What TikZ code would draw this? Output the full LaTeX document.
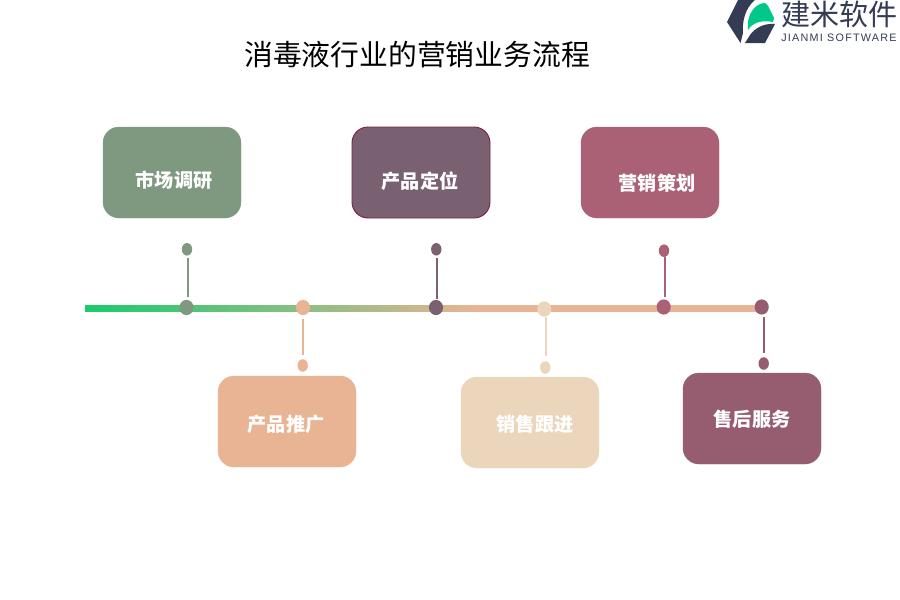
\documentclass[tikz,border=0pt]{standalone}
\usepackage{fontspec}
\setmainfont{Liberation Sans}
\newfontfamily\cjk{Noto Sans CJK SC}
\newfontfamily\logolat[LetterSpace=11.5]{Liberation Sans}
\usetikzlibrary{shapes.geometric}
\definecolor{cgreen}{HTML}{7F9880}
\definecolor{cpeach}{HTML}{E8B494}
\definecolor{cplum}{HTML}{7A6172}
\definecolor{crose}{HTML}{AB6175}
\definecolor{csand}{HTML}{EBD6BB}
\definecolor{cmauve}{HTML}{965D71}
\definecolor{cedge}{HTML}{7A1F45}
\definecolor{cstart}{HTML}{19CB6B}
\definecolor{cnavy}{HTML}{333B55}
\definecolor{clogo}{HTML}{00C88A}
\tikzset{
  x=0.75pt,y=-0.75pt,
  box/.style={rounded corners=12pt,minimum width=103.5pt,minimum height=68.25pt,inner sep=0pt,draw=#1,fill=#1,line width=0.3pt},
  lab/.style={font=\cjk\fontsize{14.35pt}{16pt}\selectfont\bfseries,text=white,inner sep=0pt},
  bigdot/.style={ellipse,fill=#1,minimum width=10.6pt,minimum height=11.4pt,inner sep=0pt},
  smalldot/.style={ellipse,fill=#1,minimum width=7.8pt,minimum height=9.4pt,inner sep=0pt},
  stem/.style={draw=#1,line width=1.3pt},
}
\begin{document}
\begin{tikzpicture}
\useasboundingbox (0,0) rectangle (900,600);
% title
\node[inner sep=0pt,font=\cjk\fontsize{21.6pt}{24pt}\selectfont] (title) at (417,55) {消毒液行业的营销业务流程};
% logo
\fill[cnavy] (738,0) -- (755,0) .. controls (745,8) and (742,22) .. (743,33) -- (740.5,43) -- (727,22) -- cycle;
\fill[cnavy] (745,43) -- (765,43) -- (775,24) .. controls (764,23) and (755,28) .. (750,35) -- cycle;
\fill[clogo] (748,30) .. controls (746,15) and (755,3) .. (765,3) -- (768,6) -- (774,18) -- (773,22) .. controls (762,20) and (753,22) .. (748,30) -- cycle;
\node[inner sep=0pt,text=cnavy,font=\cjk\fontsize{21.8pt}{24pt}\selectfont] (brand) at (839.5,14) {建米软件};
\node[inner sep=0pt,text=cnavy,font=\logolat\fontsize{8.1pt}{10pt}\selectfont] (brandlat) at (839,38) {JIANMI SOFTWARE};
% timeline: gradient built from thin slices, then flat colour
\fill[cpeach] (470,305) rectangle (762,312);
\foreach \s in {0,...,78}{
  \pgfmathsetmacro{\pc}{100-\s*100/78}
  \pgfmathsetmacro{\xa}{85+\s*5}
  \pgfmathsetmacro{\xb}{\xa+5.6}
  \fill[cstart!\pc!cpeach] (\xa,305) rectangle (\xb,312);
}
% dots on the line
\node[bigdot=cgreen] (m1) at (186.5,307.5) {};
\node[bigdot=cpeach] (m2) at (303,307.5) {};
\node[bigdot=cplum] (m3) at (436,307.5) {};
\node[bigdot=csand] (m4) at (544.3,309) {};
\node[bigdot=crose] (m5) at (663.7,307) {};
\node[bigdot=cmauve] (m6) at (761.7,307) {};
% end dots
\node[smalldot=cgreen] (e1) at (187,249.3) {};
\node[smalldot=cpeach] (e2) at (302.7,365.5) {};
\node[smalldot=cplum] (e3) at (436.3,249.3) {};
\node[smalldot=csand] (e4) at (545.3,367.5) {};
\node[smalldot=crose] (e5) at (664,250.7) {};
\node[smalldot=cmauve] (e6) at (763.7,363.5) {};
% stems
\draw[stem=cgreen,transform canvas={xshift=0.6pt},shorten <=1.5pt,shorten >=1.7pt] (e1.south) -- (e1.south |- m1.north);
\draw[stem=cpeach,shorten <=3pt,shorten >=3pt] (m2.south) -- (m2.south |- e2.north);
\draw[stem=cplum,transform canvas={xshift=0.5pt},shorten <=1.5pt,shorten >=0.5pt] (e3.south) -- (e3.south |- m3.north);
\draw[stem=csand,transform canvas={xshift=1.2pt},shorten >=3.5pt] (m4.south) -- (m4.south |- e4.north);
\draw[stem=crose,transform canvas={xshift=0.7pt},shorten >=1.5pt] (e5.south) -- (e5.south |- m5.north);
\draw[stem=cmauve,shorten <=1.8pt,shorten >=3pt] (e6.north |- m6.south) -- (e6.north);
% boxes
\node[box=cgreen] (b1) at (172,172.5) {};
\node[box=cpeach] (b2) at (287,421.5) {};
\node[box=cplum,draw=cedge,line width=0.7pt] (b3) at (421,172.5) {};
\node[box=csand] (b4) at (530,422.5) {};
\node[box=crose] (b5) at (650,172.5) {};
\node[box=cmauve] (b6) at (752,418.5) {};
% labels
\node[lab] (t1) at (174,180) {市场调研};
\node[lab] (t2) at (286,424) {产品推广};
\node[lab] (t3) at (420,181) {产品定位};
\node[lab] (t4) at (535,424) {销售跟进};
\node[lab] (t5) at (657,183) {营销策划};
\node[lab] (t6) at (752,419) {售后服务};
\end{tikzpicture}
\end{document}
